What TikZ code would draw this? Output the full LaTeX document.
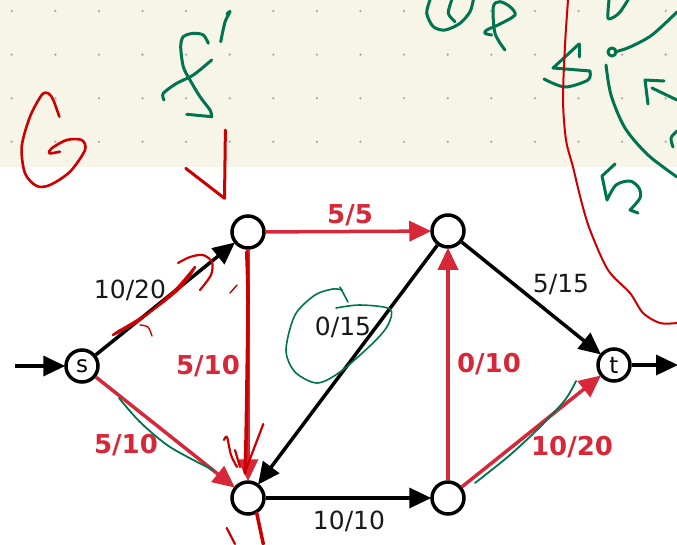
\documentclass[tikz,border=0pt]{standalone}
\usepackage{fontspec}
\setmainfont{DejaVu Sans}
\usetikzlibrary{arrows.meta}
\definecolor{cR}{HTML}{D62839}
\definecolor{cP}{HTML}{CC0000}
\definecolor{cG}{HTML}{00734F}
\definecolor{cBg}{HTML}{F7F4E8}
\definecolor{cDot}{HTML}{B4B4AE}
\tikzset{
  vtx/.style={circle,draw=black,line width=3.5pt,fill=white,minimum size=32pt,inner sep=0pt,font=\fontsize{23}{23}\selectfont},
  flow/.style={-{Triangle[length=22pt,width=20pt]},line width=3.5pt,shorten >=-1pt},
  used/.style={flow,cR},
  lab/.style={font=\fontsize{25}{25}\selectfont,text=black!90},
  rlab/.style={font=\fontsize{26}{26}\selectfont\bfseries,text=cR},
  penR/.style={cP,line width=2.6pt,line cap=round,line join=round},
  penG/.style={cG,line width=3pt,line cap=round,line join=round},
}

\begin{document}
\begin{tikzpicture}[x=1pt,y=-1pt]
  \useasboundingbox (0,0) rectangle (677,544);
  % dotted paper
  \fill[cBg] (0,0) rectangle (677,166.7);
  \foreach \i in {0,...,15}{
    \foreach \j in {0,...,3}{
      \fill[cDot] ({11.7+43.6*\i},{11+43.6*\j}) circle (1.4pt);
    }
  }

  % network
  \node[vtx] (s) at (82,366) {s};
  \node[vtx] (u) at (248,232) {};
  \node[vtx] (v) at (248,498) {};
  \node[vtx] (w) at (448,231) {};
  \node[vtx] (x) at (448,498) {};
  \node[vtx] (t) at (614,365) {t};
  \coordinate (in) at (15,366);
  \coordinate (out) at (677,365);

  \draw[flow] (in) -- (s);
  \draw[flow] (t) -- (out);
  \draw[flow] (s) -- (u);
  \draw[used] (s) -- (v);
  \draw[used] (u) -- (v);
  \draw[used] (u) -- (w);
  \draw[flow] (w) -- (v);
  \draw[flow] (v) -- (x);
  \draw[used] (x) -- (w);
  \draw[flow] (w) -- (t);
  \draw[used] (x) -- (t);

  \node[lab] (l1) at (130,290) {10/20};
  \node[rlab] (l2) at (126,445) {5/10};
  \node[rlab] (l3) at (208,366) {5/10};
  \node[rlab] (l4) at (350,215) {5/5};
  \node[lab] (l5) at (343,327) {0/15};
  \node[lab] (l6) at (349,521) {10/10};
  \node[rlab] (l7) at (489,364) {0/10};
  \node[lab] (l8) at (561,285) {5/15};
  \node[rlab] (l9) at (572,447) {10/20};

  % ink: G and f'
  \draw[penR] plot[smooth] coordinates {(59.3,116.7) (53.3,100) (48.3,93.3) (41.7,95) (30,116.7) (21.7,146.7) (25,173.3) (36.7,186) (50,185) (70,171.7) (85,150) (81.7,140) (66.7,140) (51.7,148.3) (49.3,153.3) (60,151.7)};
  \draw[penG] plot[smooth] coordinates {(208.3,43.3) (203.3,35) (193.3,33.3) (183.3,36.7) (180.7,46.7) (183.3,66.7) (190,80) (200,96.7) (210,110) (211.7,116.7)} -- (186.7,114.3);
  \draw[penG] plot[smooth] coordinates {(164,100) (163.3,93.3) (176.7,83.3) (193.3,75) (211.7,60)};
  \draw[penG] plot[smooth] coordinates {(227,14) (230,11.7) (225,22) (220.7,41.7)};
  \draw[penR,line width=3pt] (185.7,168.3) -- (224.5,198.3) -- (225.4,130);

  % ink: Gf and the s-sketch on the right
  \draw[penG] plot[smooth] coordinates {(430,0) (426.7,13.3) (433.3,26.7) (445,30) (460,23.3) (470,11.7) (473.3,0)};
  \draw[penG] plot[smooth] coordinates {(455,21.7) (448.3,13.3) (451.7,0)};
  \draw[penG] plot[smooth] coordinates {(505,50) (495,33.3) (493.3,6.7) (500,1.7) (510,6.7) (515,15) (500,24) (486.7,30) (485,33.3) (491.7,35)};
  \draw[penG] (579,44) -- (579,57);
  \draw[penG] (579,44) -- (553,68) -- (578,70) -- (590,71) plot[smooth] coordinates {(590,71) (588,80) (565,87) (544,79)};
  \draw[penG] (612,52) circle (4);
  \draw[penG] plot[smooth] coordinates {(615,52) (630,47) (652,35) (677,12)};
  \draw[penG] plot[smooth] coordinates {(606,65) (611,95) (625,128) (648,155) (677,177)};
  \draw[penG] plot[smooth] coordinates {(609,0) (608,18) (614,17) (620,12) (628,0)};
  \draw[penG] (648,104) -- (645,80) -- (664,81);
  \draw[penG] (652,88) -- (677,100);
  \draw[penG] plot[smooth] coordinates {(677,131) (671,138) (673,147)};
  \draw[penG] (615,164) -- (602,176) -- (607,200) plot[smooth] coordinates {(607,200) (616,185) (630,181) (639,188) (640,198) (630,210)} -- (638,213);
  \draw[penR,line width=2pt] plot[smooth] coordinates {(568,0) (565,45) (563,100) (566,140) (573,167) (581,200) (590,230) (608,270) (630,293) (643,313) (660,323) (677,323)};

  % ink on the network
  \draw[penG,line width=1.6pt] plot[smooth] coordinates {(336,308) (360,305) (390,309) (388,325) (373,343) (340,372) (317,383) (295,372) (286,350) (295,315) (315,295) (333,289) (342,290)};
  \draw[penG,line width=1.6pt] (340,287) -- (348,302);
  \draw[penG,line width=1.8pt] plot[smooth] coordinates {(119,398) (140,422) (170,447) (213,470)};
  \draw[penG,line width=1.8pt] plot[smooth] coordinates {(475,483) (510,455) (540,427) (565,400) (576,381)};
  \draw[penR,line width=2.2pt] plot[smooth] coordinates {(117,332) (150,312) (180,288) (195,267) (175,290) (140,320) (113,335) (120,330)};
  \draw[penR,line width=2.2pt] plot[smooth] coordinates {(178,263) (190,257) (203,255) (212,262) (211,275) (200,290)};
  \draw[penR,line width=1.4pt] plot[smooth] coordinates {(140,325) (148,327) (152,336)};
  \draw[penR,line width=1.4pt] (230,293) -- (237,285);
  \draw[penR,line width=3.5pt] plot[smooth] coordinates {(246.7,252) (248,300) (247,380) (246,440) (245,473)};
  \draw[penR,line width=2.2pt] plot[smooth] coordinates {(224,440) (227,437) (231,455) (237,467)};
  \draw[penR,line width=2.2pt] (235,450) -- (240,467);
  \draw[penR,line width=2.2pt] (263.3,424) -- (245,472);
  \draw[penR,line width=3.5pt] (256.7,513) -- (263.3,544);
  \draw[penR,line width=2.2pt] (226.7,528) -- (235,544);
\end{tikzpicture}
\end{document}
